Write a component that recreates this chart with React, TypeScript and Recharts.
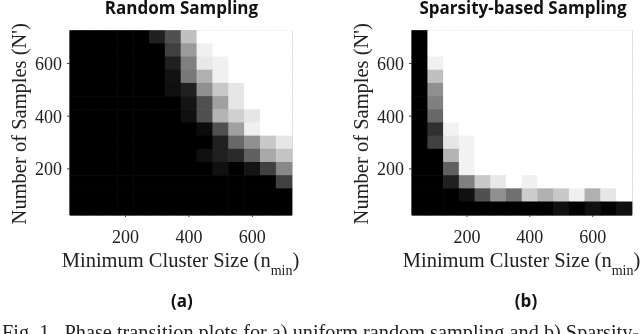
import React from "react";
import { ScatterChart, Scatter, XAxis, YAxis } from "recharts";

const CENTERS_X = [50, 100, 150, 200, 250, 300, 350, 400, 450, 500, 550, 600, 650, 700];
const CENTERS_Y = [700, 650, 600, 550, 500, 450, 400, 350, 300, 250, 200, 150, 100, 50];
const TICKS = [200, 400, 600];
const DOMAIN: [number, number] = [25, 725];

const RANDOM_GREY = [
  [0, 0, 0, 0, 0, 32, 80, 192, 255, 255, 255, 255, 255, 255],
  [0, 0, 0, 0, 0, 0, 64, 155, 240, 255, 255, 255, 255, 255],
  [0, 0, 0, 0, 0, 0, 32, 128, 232, 240, 255, 255, 255, 255],
  [0, 0, 0, 0, 0, 0, 18, 120, 176, 240, 255, 255, 255, 255],
  [0, 0, 0, 0, 0, 0, 16, 32, 144, 200, 230, 255, 255, 255],
  [0, 0, 0, 0, 0, 0, 0, 20, 80, 160, 230, 255, 255, 255],
  [0, 0, 0, 0, 0, 0, 0, 16, 80, 180, 208, 230, 255, 255],
  [0, 0, 0, 0, 0, 0, 0, 0, 12, 80, 160, 240, 255, 255],
  [0, 0, 0, 0, 0, 0, 0, 0, 0, 32, 104, 144, 200, 230],
  [0, 0, 0, 0, 0, 0, 0, 0, 16, 32, 42, 96, 168, 196],
  [0, 0, 0, 0, 0, 0, 0, 0, 0, 16, 0, 20, 64, 136],
  [0, 0, 0, 0, 0, 0, 0, 0, 0, 0, 0, 0, 0, 64],
  [0, 0, 0, 0, 0, 0, 0, 0, 0, 0, 0, 0, 0, 0],
  [0, 0, 0, 0, 0, 0, 0, 0, 0, 0, 0, 0, 0, 0],
];

const SPARSITY_GREY = [
  [0, 255, 255, 255, 255, 255, 255, 255, 255, 255, 255, 255, 255, 255],
  [0, 255, 255, 255, 255, 255, 255, 255, 255, 255, 255, 255, 255, 255],
  [0, 240, 255, 255, 255, 255, 255, 255, 255, 255, 255, 255, 255, 255],
  [0, 192, 255, 255, 255, 255, 255, 255, 255, 255, 255, 255, 255, 255],
  [0, 144, 255, 255, 255, 255, 255, 255, 255, 255, 255, 255, 255, 255],
  [0, 128, 255, 255, 255, 255, 255, 255, 255, 255, 255, 255, 255, 255],
  [0, 104, 255, 255, 255, 255, 255, 255, 255, 255, 255, 255, 255, 255],
  [0, 48, 242, 255, 255, 255, 255, 255, 255, 255, 255, 255, 255, 255],
  [0, 64, 230, 242, 255, 255, 255, 255, 255, 255, 255, 255, 255, 255],
  [0, 0, 180, 242, 255, 255, 255, 255, 255, 255, 255, 255, 255, 255],
  [0, 0, 96, 242, 255, 255, 255, 255, 255, 255, 255, 255, 255, 255],
  [0, 0, 32, 128, 200, 232, 255, 240, 255, 255, 255, 255, 255, 255],
  [0, 0, 0, 16, 80, 144, 112, 204, 176, 200, 240, 176, 230, 255],
  [0, 0, 0, 0, 0, 0, 0, 0, 0, 16, 0, 16, 0, 16],
];

type Cell = { x: number; y: number; grey: number };

const toCells = (grid: number[][]): Cell[] =>
  grid.flatMap((row, r) => row.map((grey, c) => ({ x: CENTERS_X[c], y: CENTERS_Y[r], grey })));

const SERIF = "'Liberation Serif', serif";
const SANS = "'Open Sans', 'Liberation Sans', sans-serif";
const tickStyle = { fontFamily: SERIF, fontSize: 18, fill: "#222" };

function Panel({
  left,
  cells,
  yAxisWidth,
  rightMargin,
}: {
  left: number;
  cells: Cell[];
  yAxisWidth: number;
  rightMargin: number;
}) {
  const plotW = 320 - yAxisWidth - rightMargin;
  const cellW = plotW / 14 + 0.6;
  const plotH = 184.5;
  const cellH = plotH / 14 + 0.6;
  const shape = (p: any) => {
    const g = p.payload.grey;
    return (
      <rect
        x={p.cx - cellW / 2}
        y={p.cy - cellH / 2}
        width={cellW}
        height={cellH}
        fill={`rgb(${g},${g},${g})`}
      />
    );
  };
  const xLabel = (p: any) => {
    const vb = p.viewBox;
    const cx = vb.x + vb.width / 2 - 0.5;
    return (
      <text x={cx} y={vb.y + 51.5} textAnchor="middle" fontFamily={SERIF} fontSize={20.5} fill="#222">
        Minimum Cluster Size (n
        <tspan dy={8} fontSize={14}>min</tspan>
        <tspan dy={-8}>)</tspan>
      </text>
    );
  };
  return (
    <div style={{ position: "absolute", left, top: 0 }}>
      <ScatterChart
        width={320}
        height={285}
        margin={{ top: 29.5, right: rightMargin - 1, bottom: 0, left: 0 }}
      >
        <XAxis
          xAxisId="top"
          orientation="top"
          type="number"
          dataKey="x"
          domain={DOMAIN}
          ticks={TICKS}
          tick={false}
          tickSize={3}
          height={1}
          stroke="#c4c4c4"
          tickLine={{ stroke: "#444" }}
        />
        <YAxis
          yAxisId="right"
          orientation="right"
          type="number"
          dataKey="y"
          domain={DOMAIN}
          ticks={TICKS}
          tick={false}
          tickSize={3}
          width={1}
          stroke="#aaa"
          tickLine={{ stroke: "#444" }}
        />
        <XAxis
          xAxisId="main"
          type="number"
          dataKey="x"
          domain={DOMAIN}
          ticks={TICKS}
          tick={tickStyle}
          tickLine={{ stroke: "#444" }}
          tickSize={2}
          tickMargin={13}
          height={70}
          stroke="#000"
          label={xLabel}
        />
        <YAxis
          yAxisId="main"
          type="number"
          dataKey="y"
          domain={DOMAIN}
          ticks={TICKS}
          tick={tickStyle}
          tickLine={{ stroke: "#444" }}
          tickSize={3}
          tickMargin={5}
          width={yAxisWidth}
          stroke="#000"
          label={{
            value: "Number of Samples (N')",
            angle: -90,
            position: "insideLeft",
            offset: yAxisWidth - 51,
            dy: 1,
            style: { textAnchor: "middle", fontFamily: SERIF, fontSize: 20.5, fill: "#222" },
          }}
        />
        <Scatter
          data={cells}
          xAxisId="main"
          yAxisId="main"
          shape={shape}
          isAnimationActive={false}
        />
      </ScatterChart>
    </div>
  );
}

const centered = (x: number, y: number, size: number, weight: number, family: string): React.CSSProperties => ({
  position: "absolute",
  left: x - 200,
  width: 400,
  top: y,
  textAlign: "center",
  fontSize: size,
  fontWeight: weight,
  fontFamily: family,
  lineHeight: "15px",
  color: "#111",
  whiteSpace: "nowrap",
});

export default function App() {
  return (
    <div
      style={{
        position: "absolute",
        left: 0,
        top: 0,
        width: 640,
        height: 334,
        overflow: "hidden",
        background: "#fff",
        filter: "blur(0.4px)",
      }}
    >
      <Panel left={0} cells={toCells(RANDOM_GREY)} yAxisWidth={70} rightMargin={28} />
      <Panel left={320} cells={toCells(SPARSITY_GREY)} yAxisWidth={92} rightMargin={8} />
      <div style={centered(181.5, 0, 17, 700, SANS)}>Random Sampling</div>
      <div style={centered(523, 0, 17, 700, SANS)}>Sparsity-based Sampling</div>
      <div style={centered(182, 293, 17, 700, SANS)}>(a)</div>
      <div style={centered(526, 293, 17, 700, SANS)}>(b)</div>
      <div
        style={{
          position: "absolute",
          left: 2,
          top: 322,
          fontFamily: SERIF,
          fontSize: 20.3,
          lineHeight: 1,
          color: "#222",
          whiteSpace: "nowrap",
        }}
      >
        Fig. 1. &nbsp;Phase transition plots for a) uniform random sampling and b) Sparsity-
      </div>
    </div>
  );
}
